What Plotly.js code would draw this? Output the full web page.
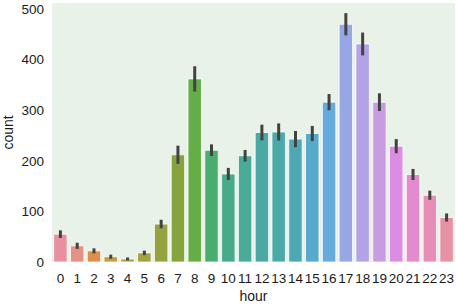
<!DOCTYPE html>
<html>
<head>
<meta charset="utf-8">
<script src="https://cdn.plot.ly/plotly-3.0.1.min.js"></script>
<style>html,body{margin:0;padding:0;background:#fff;}#chart{width:456px;height:305px;}</style>
</head>
<body>
<div id="chart"></div>
<script>
const hours = [0,1,2,3,4,5,6,7,8,9,10,11,12,13,14,15,16,17,18,19,20,21,22,23];
const counts = [55,32,22,10.5,6,18,75,212,362,221,174,210,256,257,243,254,316,470,431,316,229,173,132,88];
const ciHalf = [7.5,6,5,4,3,4.5,8.5,18,25,11.5,12,11.5,15.5,17,16,15,16,22,22.5,17.5,14,11,9,8];
const yTicks = [0,100,200,300,400,500];
const barColors = ['#e8909f','#e59184','#df8d4a','#c99a40','#b5a23e','#a2a240','#94a23f','#85a43e',
  '#65ad47','#4aad70','#49aa8a','#4aab98','#4aa9a4','#4ca9aa','#4ea8b4','#56aacb',
  '#67aade','#97a6e4','#b3a2e6','#c99be3','#dd8ce4','#e48bd0','#e68db8','#e791a5'];

const trace = {
  type: 'bar',
  x: hours,
  y: counts,
  marker: {color: barColors, line: {color: '#ffffff', width: 0.8}},
  error_y: {type: 'data', array: ciHalf, visible: true, color: '#424242', thickness: 3, width: 0},
  hoverinfo: 'x+y'
};
const font = {family: 'Liberation Sans, Arial, sans-serif', size: 13, color: '#1a1a1a'};
const layout = {
  width: 456, height: 305,
  margin: {l: 52, r: 1, t: 3, b: 43},
  paper_bgcolor: '#ffffff',
  plot_bgcolor: '#e9f2e9',
  bargap: 0.2,
  showlegend: false,
  font: font,
  xaxis: {
    range: [-0.5, 23.5],
    tickvals: hours, ticktext: hours.map(String),
    tickangle: 0,
    showgrid: false, zeroline: false, showline: false, ticks: '',
    ticklabelstandoff: 6,
    tickfont: {family: font.family, size: 13.5, color: '#1a1a1a'},
    title: {text: 'hour', font: {family: font.family, size: 14, color: '#1a1a1a'}, standoff: 6}
  },
  yaxis: {
    range: [0, 512],
    tickvals: yTicks,
    showgrid: false, zeroline: false, showline: false, ticks: '',
    ticklabelstandoff: 7,
    tickfont: {family: font.family, size: 13.5, color: '#1a1a1a'},
    title: {text: 'count', font: {family: font.family, size: 14, color: '#1a1a1a'}, standoff: 6}
  }
};
Plotly.newPlot('chart', [trace], layout, {displayModeBar: false, staticPlot: true});
</script>
</body>
</html>
